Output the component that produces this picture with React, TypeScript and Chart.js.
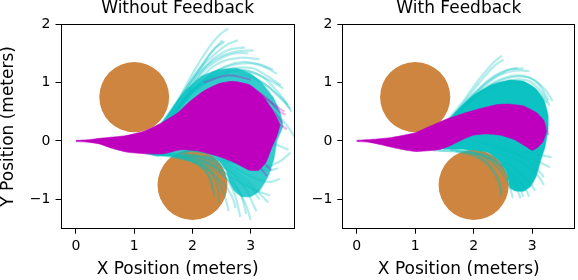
import React, { useEffect, useRef } from "react";
import { Chart, registerables } from "chart.js";

Chart.register(...registerables);

type P = [number, number];

// ---- text / ticks ----
const panelTitles = ["Without Feedback", "With Feedback"];
const xAxisLabel = "X Position (meters)";
const yAxisLabel = "Y Position (meters)";
const xTickValues = [0, 1, 2, 3];
const yTickValues = [-1, 0, 1, 2];

// ---- obstacles (data units) ----
const obstacleX = [1, 2];
const obstacleY = [0.75, -0.75];
const obstacleR = [0.6, 0.6];

// ---- Without Feedback ----
const leftMagentaCore: P[] = [
  [0, 0.01], [0.2, 0.02], [0.45, 0.05], [0.85, 0.09], [1.15, 0.16], [1.45, 0.3], [1.73, 0.47],
  [1.96, 0.68], [2.2, 0.86], [2.45, 0.98], [2.7, 1.02], [2.98, 0.96], [3.2, 0.78], [3.38, 0.52],
  [3.5, 0.28], [3.45, 0.08], [3.36, -0.12], [3.27, -0.35], [3.14, -0.5], [2.98, -0.5], [2.7, -0.36],
  [2.4, -0.25], [2.1, -0.17], [1.8, -0.15], [1.5, -0.22], [1.2, -0.22], [0.87, -0.19], [0.6, -0.12],
  [0.4, -0.05], [0.2, -0.02], [0, -0.01],
];
const leftCyanCore: P[] = [
  [1.4, 0.22], [1.55, 0.4], [1.72, 0.65], [1.92, 0.9], [2.15, 1.1], [2.45, 1.22], [2.75, 1.24],
  [3.0, 1.15], [3.2, 0.98], [3.38, 0.75], [3.5, 0.5], [3.55, 0.25], [3.45, 0.0], [3.4, -0.3],
  [3.3, -0.6], [3.15, -0.85], [3.0, -0.95], [2.85, -0.95], [2.72, -0.85], [2.64, -0.7], [2.58, -0.5],
  [2.45, -0.33], [2.25, -0.22], [2.0, -0.18], [1.7, -0.22], [1.4, -0.26], [1.2, -0.22],
];
const leftCyanStrays: P[][] = [
  [[1.45, 0.28], [1.75, 0.7], [2.0, 1.15], [2.25, 1.55], [2.45, 1.8], [2.61, 1.92]],
  [[1.5, 0.3], [1.8, 0.75], [2.1, 1.2], [2.4, 1.5], [2.6, 1.65], [2.78, 1.72]],
  [[1.55, 0.33], [1.9, 0.8], [2.2, 1.2], [2.5, 1.42], [2.75, 1.5], [2.96, 1.5]],
  [[1.6, 0.35], [1.95, 0.8], [2.3, 1.12], [2.7, 1.3], [3.1, 1.32], [3.38, 1.22]],
  [[1.6, 0.35], [2.0, 0.85], [2.4, 1.1], [2.9, 1.2], [3.3, 1.05], [3.56, 0.9]],
  [[1.65, 0.4], [2.05, 0.85], [2.5, 1.1], [3.0, 1.1], [3.4, 0.85], [3.64, 0.62]],
  [[1.5, 0.3], [1.85, 0.78], [2.15, 1.25], [2.35, 1.55], [2.55, 1.7]],
  [[1.55, 0.3], [1.9, 0.8], [2.25, 1.3], [2.6, 1.55], [2.9, 1.6]],
  [[1.6, 0.33], [2.0, 0.9], [2.4, 1.3], [2.8, 1.42], [3.15, 1.4]],
  [[1.7, 0.45], [2.1, 0.95], [2.6, 1.2], [3.1, 1.15], [3.5, 0.8], [3.7, 0.5]],
  [[2.0, 0.5], [2.6, 0.8], [3.2, 0.6], [3.55, 0.35], [3.75, 0.08]],
  [[1.45, 0.25], [1.7, 0.6], [1.95, 1.0], [2.2, 1.35], [2.4, 1.6], [2.52, 1.72]],
  [[1.6, 0.38], [2.0, 0.88], [2.45, 1.22], [2.85, 1.35], [3.2, 1.28], [3.45, 1.15]],
  [[1.7, 0.5], [2.1, 0.95], [2.55, 1.2], [3.0, 1.25], [3.3, 1.1], [3.52, 0.95]],
  [[1.75, 0.55], [2.2, 1.0], [2.7, 1.18], [3.2, 1.0], [3.52, 0.72], [3.68, 0.55]],
  [[1.5, 0.32], [1.82, 0.78], [2.1, 1.15], [2.4, 1.4], [2.7, 1.52], [3.05, 1.55]],
  [[1.3, -0.22], [1.8, -0.3], [2.3, -0.45], [2.7, -0.75], [2.9, -1.05], [3.0, -1.35]],
  [[1.3, -0.22], [1.8, -0.3], [2.2, -0.45], [2.55, -0.75], [2.7, -1.0], [2.74, -1.15]],
  [[1.4, -0.22], [1.9, -0.28], [2.4, -0.45], [2.8, -0.7], [3.1, -0.85], [3.33, -0.93]],
  [[1.5, -0.22], [2.0, -0.25], [2.6, -0.35], [3.0, -0.45], [3.3, -0.5], [3.47, -0.47]],
  [[1.3, -0.2], [1.7, -0.25], [2.1, -0.35], [2.35, -0.6], [2.45, -0.85], [2.44, -1.07]],
  [[1.25, -0.2], [1.65, -0.25], [2.0, -0.35], [2.25, -0.55], [2.35, -0.8], [2.38, -0.95]],
  [[1.4, -0.22], [1.9, -0.3], [2.3, -0.5], [2.5, -0.8], [2.6, -1.1], [2.62, -1.2]],
  [[1.5, -0.22], [2.0, -0.3], [2.5, -0.5], [2.8, -0.85], [2.9, -1.15], [2.92, -1.25]],
  [[1.6, -0.2], [2.2, -0.3], [2.7, -0.55], [3.0, -0.8], [3.15, -1.0]],
  [[2.0, -0.22], [2.6, -0.4], [3.0, -0.6], [3.3, -0.7], [3.5, -0.65]],
  [[1.2, -0.2], [1.6, -0.24], [1.95, -0.32], [2.2, -0.48], [2.32, -0.7], [2.35, -0.85]],
  [[1.8, -0.2], [2.4, -0.35], [2.85, -0.6], [3.15, -0.9], [3.3, -1.05]],
  [[1.6, -0.22], [2.1, -0.3], [2.6, -0.5], [2.9, -0.8], [3.05, -1.1], [3.1, -1.2]],
  [[1.4, -0.22], [2.0, -0.28], [2.45, -0.5], [2.7, -0.85], [2.8, -1.2], [2.82, -1.3]],
  [[2.2, -0.25], [2.8, -0.4], [3.2, -0.45], [3.5, -0.35], [3.68, -0.2]],
  [[2.4, 0.0], [3.0, 0.05], [3.4, -0.05], [3.65, -0.15]],
];
const leftMagentaStrays: P[][] = [
  [[2.4, 0.9], [2.9, 0.95], [3.3, 0.7], [3.5, 0.5], [3.6, 0.45]],
  [[2.5, 0.8], [3.0, 0.75], [3.35, 0.55], [3.55, 0.3]],
  [[2.5, -0.2], [2.9, -0.3], [3.15, -0.45], [3.28, -0.6]],
  [[2.2, 1.0], [2.6, 1.12], [3.0, 1.05]],
  [[2.6, 0.6], [3.1, 0.55], [3.4, 0.35], [3.62, 0.2]],
  [[2.7, 0.95], [3.1, 0.85], [3.4, 0.62], [3.58, 0.5]],
  [[2.6, -0.1], [3.0, -0.25], [3.25, -0.4], [3.35, -0.5]],
];

// ---- With Feedback ----
const rightMagentaCore: P[] = [
  [0, 0.01], [0.3, 0.03], [0.6, 0.06], [1.0, 0.14], [1.25, 0.25], [1.5, 0.36], [1.82, 0.47],
  [2.1, 0.55], [2.39, 0.62], [2.6, 0.63], [2.85, 0.6], [3.08, 0.48], [3.2, 0.35], [3.24, 0.15],
  [3.18, -0.02], [3.08, -0.12], [3.0, -0.16], [2.9, -0.1], [2.7, 0.02], [2.45, 0.1], [2.2, 0.12],
  [2.0, 0.1], [1.8, 0.02], [1.6, -0.08], [1.4, -0.15], [1.0, -0.18], [0.7, -0.13], [0.4, -0.06],
  [0.2, -0.02], [0, -0.01],
];
const rightCyanCore: P[] = [
  [1.3, 0.18], [1.55, 0.35], [1.75, 0.55], [2.0, 0.78], [2.3, 0.96], [2.6, 1.04], [2.85, 1.02],
  [3.05, 0.9], [3.2, 0.7], [3.27, 0.45], [3.27, 0.2], [3.22, -0.1], [3.14, -0.35], [3.07, -0.6],
  [2.97, -0.78], [2.85, -0.86], [2.7, -0.85], [2.62, -0.8], [2.6, -0.7], [2.55, -0.5],
  [2.42, -0.32], [2.25, -0.2], [2.0, -0.16], [1.75, -0.14], [1.5, -0.14], [1.3, -0.1],
];
const rightCyanStrays: P[][] = [
  [[1.5, 0.3], [1.8, 0.65], [2.05, 1.0], [2.3, 1.3], [2.48, 1.46]],
  [[1.55, 0.32], [1.85, 0.68], [2.1, 1.0], [2.35, 1.28], [2.51, 1.39]],
  [[1.6, 0.35], [1.95, 0.75], [2.3, 1.08], [2.6, 1.22], [2.85, 1.24]],
  [[1.65, 0.4], [2.05, 0.8], [2.45, 1.05], [2.8, 1.12], [3.08, 1.0], [3.28, 0.7]],
  [[1.7, 0.42], [2.1, 0.8], [2.5, 1.0], [2.9, 1.04], [3.15, 0.85], [3.3, 0.6]],
  [[1.6, 0.36], [1.9, 0.7], [2.25, 1.02], [2.55, 1.2], [2.75, 1.25]],
  [[1.7, 0.45], [2.15, 0.85], [2.6, 1.08], [2.95, 1.08], [3.2, 0.9], [3.35, 0.68]],
  [[1.65, 0.4], [2.0, 0.78], [2.4, 1.1], [2.7, 1.2], [2.95, 1.2]],
  [[2.0, 0.0], [2.5, -0.1], [2.9, -0.2], [3.2, -0.25], [3.33, -0.28]],
  [[2.2, -0.05], [2.7, -0.2], [3.0, -0.4], [3.15, -0.55], [3.2, -0.62]],
  [[2.3, -0.1], [2.8, -0.25], [3.1, -0.35], [3.3, -0.45]],
  [[1.6, -0.15], [2.1, -0.22], [2.5, -0.45], [2.75, -0.75], [2.85, -0.95]],
  [[1.6, -0.15], [2.05, -0.22], [2.4, -0.45], [2.6, -0.75], [2.67, -0.98]],
  [[1.4, -0.16], [1.9, -0.2], [2.2, -0.35], [2.4, -0.6], [2.47, -0.8], [2.46, -0.95]],
  [[1.3, -0.16], [1.8, -0.2], [2.15, -0.33], [2.35, -0.55], [2.45, -0.8], [2.45, -0.9]],
  [[1.7, -0.18], [2.2, -0.26], [2.55, -0.55], [2.75, -0.85], [2.8, -0.98]],
  [[1.9, -0.18], [2.4, -0.35], [2.75, -0.65], [2.9, -0.85], [2.95, -0.95]],
  [[2.1, -0.2], [2.6, -0.4], [2.95, -0.7], [3.05, -0.85]],
  [[2.4, -0.2], [2.8, -0.35], [3.1, -0.6], [3.2, -0.75]],
  [[2.3, 0.9], [2.8, 1.0], [3.1, 0.85], [3.25, 0.65]],
];
const rightMagentaStrays: P[][] = [
  [[2.6, 0.55], [2.95, 0.5], [3.2, 0.3], [3.28, 0.1]],
];

// ---- styling ----
const FONT = "'DejaVu Sans', sans-serif";
const MAGENTA = "rgb(190,0,190)";
const MAGENTA_FAINT = "rgba(191,0,191,0.3)";
const CYAN_FAINT = "rgba(0,191,191,0.3)";
const OBSTACLE = "#cd853f";

const toXY = (pts: P[]) => pts.map(([x, y]) => ({ x, y }));
const fmt = (v: number) => (v < 0 ? "\u2212" + Math.abs(v) : String(v));

const framePlugin = {
  id: "frame",
  afterDraw(chart: any) {
    const { ctx, chartArea: a } = chart;
    ctx.save();
    ctx.strokeStyle = "#000";
    ctx.lineWidth = 1;
    const l = Math.round(a.left) + 0.5, t = Math.round(a.top) + 0.5;
    const r = Math.round(a.right) - 0.5, b = Math.round(a.bottom) - 0.5;
    ctx.strokeRect(l, t, r - l, b - t);
    ctx.restore();
  },
};

const obstaclePlugin = {
  id: "obstacles",
  beforeDatasetsDraw(chart: any) {
    const { ctx, chartArea: a, scales } = chart;
    const xs = scales.x, ys = scales.y;
    ctx.save();
    ctx.beginPath();
    ctx.rect(a.left, a.top, a.right - a.left, a.bottom - a.top);
    ctx.clip();
    ctx.fillStyle = OBSTACLE;
    obstacleX.forEach((ox, i) => {
      const cx = xs.getPixelForValue(ox);
      const cy = ys.getPixelForValue(obstacleY[i]);
      const rx = Math.abs(xs.getPixelForValue(ox + obstacleR[i]) - cx);
      const ry = Math.abs(ys.getPixelForValue(obstacleY[i] + obstacleR[i]) - cy);
      ctx.beginPath();
      ctx.ellipse(cx, cy, rx, ry, 0, 0, Math.PI * 2);
      ctx.fill();
    });
    ctx.restore();
  },
};

function buildDatasets(mCore: P[], cCore: P[], cStrays: P[][], mStrays: P[][], cyanCoreColor: string) {
  const ds: any[] = [];
  ds.push({
    data: toXY(mCore), fill: "shape", backgroundColor: MAGENTA, borderColor: "rgba(191,0,191,0.6)",
    borderWidth: 1, order: 1, tension: 0.15, clip: 0,
  });
  mStrays.forEach((s) =>
    ds.push({ data: toXY(s), fill: false, borderColor: MAGENTA_FAINT, borderWidth: 2.2, order: 2, tension: 0.4, clip: 0 })
  );
  cStrays.forEach((s) =>
    ds.push({ data: toXY(s), fill: false, borderColor: CYAN_FAINT, borderWidth: 2.2, order: 3, tension: 0.4, clip: 0 })
  );
  ds.push({
    data: toXY(cCore), fill: "shape", backgroundColor: cyanCoreColor, borderColor: "rgba(0,191,191,0.35)",
    borderWidth: 1.5, order: 4, tension: 0.15, clip: 0,
  });
  return ds;
}

interface PanelCfg {
  title: string;
  xMin: number;
  xMax: number;
  yScaleWidth: number;
  rightPad: number;
  showYTitle: boolean;
  datasets: any[];
}

function makeChart(canvas: HTMLCanvasElement, cfg: PanelCfg) {
  return new Chart(canvas, {
    type: "line",
    data: { datasets: cfg.datasets },
    plugins: [obstaclePlugin, framePlugin],
    options: {
      animation: false,
      responsive: false,
      devicePixelRatio: 1,
      layout: { padding: { left: 0, right: cfg.rightPad, top: 0, bottom: 0 } },
      elements: { point: { radius: 0, hoverRadius: 0 } },
      events: [],
      plugins: {
        legend: { display: false },
        tooltip: { enabled: false },
        title: {
          display: true,
          text: cfg.title,
          fullSize: false,
          color: "#000",
          font: { family: FONT, size: 17, weight: "normal", lineHeight: 1 },
          padding: { top: 0.5, bottom: 6.5 },
        },
      },
      scales: {
        x: {
          type: "linear",
          min: cfg.xMin,
          max: cfg.xMax,
          afterBuildTicks: (s: any) => {
            s.ticks = xTickValues.map((v) => ({ value: v }));
          },
          afterFit: (s: any) => {
            s.height = 280 - 228.7;
          },
          grid: { display: true, drawOnChartArea: false, drawTicks: true, tickLength: 5, color: "#000", lineWidth: 1 },
          border: { display: false },
          ticks: {
            autoSkip: false, maxRotation: 0, padding: 4, color: "#000",
            font: { family: FONT, size: 14 },
            callback: (v: any) => fmt(Number(v)),
          },
          title: {
            display: true, text: xAxisLabel, color: "#000",
            font: { family: FONT, size: 17, lineHeight: 1 },
            padding: { top: 0, bottom: 1.5 },
          },
        },
        y: {
          type: "linear",
          min: -1.5,
          max: 2,
          afterBuildTicks: (s: any) => {
            s.ticks = yTickValues.map((v) => ({ value: v }));
          },
          afterFit: (s: any) => {
            s.width = cfg.yScaleWidth;
          },
          grid: { display: true, drawOnChartArea: false, drawTicks: true, tickLength: 5, color: "#000", lineWidth: 1 },
          border: { display: false },
          ticks: {
            autoSkip: false, padding: 5, color: "#000",
            font: { family: FONT, size: 14 },
            callback: (v: any) => fmt(Number(v)),
          },
          title: {
            display: cfg.showYTitle, text: yAxisLabel, color: "#000",
            font: { family: FONT, size: 17, lineHeight: 1 },
            padding: { top: 0, bottom: 0 },
          },
        },
      },
    } as any,
  });
}

export default function App() {
  const leftRef = useRef<HTMLCanvasElement>(null);
  const rightRef = useRef<HTMLCanvasElement>(null);

  useEffect(() => {
    Chart.defaults.font.family = FONT;
    const c1 = makeChart(leftRef.current!, {
      title: panelTitles[0],
      xMin: -0.266,
      xMax: 3.756,
      yScaleWidth: 60.5,
      rightPad: 5.3,
      showYTitle: true,
      datasets: buildDatasets(leftMagentaCore, leftCyanCore, leftCyanStrays, leftMagentaStrays, "rgba(0,191,191,0.8)"),
    });
    const c2 = makeChart(rightRef.current!, {
      title: panelTitles[1],
      xMin: -0.246,
      xMax: 3.737,
      yScaleWidth: 42.3,
      rightPad: 2.7,
      showYTitle: false,
      datasets: buildDatasets(rightMagentaCore, rightCyanCore, rightCyanStrays, rightMagentaStrays, "rgba(0,191,191,0.95)"),
    });
    return () => {
      c1.destroy();
      c2.destroy();
    };
  }, []);

  return (
    <div style={{ position: "fixed", left: 0, top: 0, width: 578, height: 280, background: "#fff", overflow: "hidden" }}>
      <canvas ref={leftRef} width={300} height={280} style={{ position: "absolute", left: 0, top: 0, width: 300, height: 280 }} />
      <canvas ref={rightRef} width={278} height={280} style={{ position: "absolute", left: 300, top: 0, width: 278, height: 280 }} />
    </div>
  );
}
